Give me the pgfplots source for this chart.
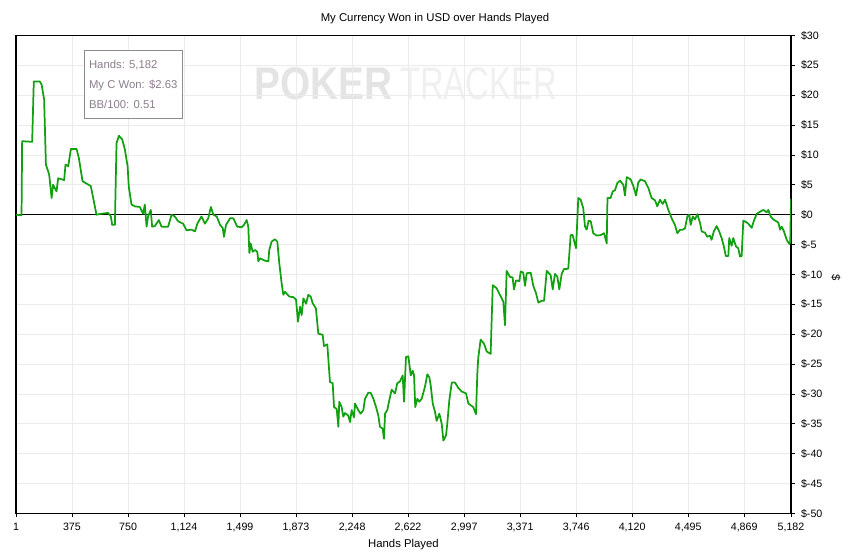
\documentclass[border=0pt]{standalone}
\usepackage{fontspec}
\setmainfont{Liberation Sans}
\usepackage{graphicx}
\usepackage{pgfplots}
\pgfplotsset{compat=1.18}
\definecolor{curve}{RGB}{16,160,16}
\definecolor{gridc}{RGB}{235,235,235}
\definecolor{legtxt}{RGB}{140,125,140}
\definecolor{wma}{RGB}{228,228,228}
\definecolor{wmb}{RGB}{240,240,240}
\begin{document}
\begin{tikzpicture}
\begin{axis}[
  set layers,
  scale only axis,
  width=581.25pt, height=358.5pt,
  xmin=1, xmax=5182, ymin=-50, ymax=30,
  axis line style={black, line width=0.8pt},
  grid=major,
  major grid style={gridc, line width=0.6pt},
  tick align=outside,
  major tick length=3pt,
  tick style={black, line width=0.6pt},
  xtick pos=lower,
  ytick pos=right,
  yticklabel pos=right,
  xtick={1,375,750,1124,1499,1873,2248,2622,2997,3371,3746,4120,4495,4869,5182},
  xticklabels={1,375,750,{1,124},{1,499},{1,873},{2,248},{2,622},{2,997},{3,371},{3,746},{4,120},{4,495},{4,869},{5,182}},
  ytick={-50,-45,-40,-35,-30,-25,-20,-15,-10,-5,0,5,10,15,20,25,30},
  yticklabels={\$-50,\$-45,\$-40,\$-35,\$-30,\$-25,\$-20,\$-15,\$-10,\$-5,\$0,\$5,\$10,\$15,\$20,\$25,\$30},
  ticklabel style={font=\fontsize{8}{9}\selectfont},
  xticklabel style={yshift=-1pt},
  yticklabel style={xshift=1pt},
  clip=true,
]
\begin{pgfonlayer}{axis background}
\node[anchor=center, inner sep=0pt, text=wma] at (rel axis cs:0.397,0.900)
  {\resizebox{103.5pt}{24pt}{\bfseries POKER}};
\node[anchor=center, inner sep=0pt, text=wmb] at (rel axis cs:0.597,0.900)
  {\resizebox{117.75pt}{24pt}{TRACKER}};
\end{pgfonlayer}
\addplot[black, line width=0.6pt] coordinates {(1,0) (5182,0)};
\addplot[curve, line width=1.3pt, line join=round] coordinates {
(1,0) (38,-0.1) (42,12.3) (109,12.2) (120,22.3) (160,22.3) (172,21.8) (189,19.3)
(201,8.4) (223,6.7) (239,2.8) (249,5) (272,3.9) (283,6.1) (323,5.8) (332,8.4)
(350,8.1) (368,11) (406,11) (421,9.5) (446,5.6) (473,5.2) (501,4.8) (517,2.8)
(539,0) (568,0.15) (617,0.3) (635,-0.3) (644,-1.7) (662,-1.7) (673,12) (689,13.2)
(711,12.6) (729,10.9) (747,8.1) (755,4.7) (773,1.7) (796,1.4) (829,1.3) (851,0.15)
(862,1.7) (874,-2) (884,-0.3) (902,0.8) (911,-2) (929,-1.9) (956,-0.9) (974,-2)
(1018,-2) (1041,0) (1063,-0.3) (1085,-1.1) (1118,-1.5) (1141,-2.6) (1175,-2.5)
(1197,-2.8) (1215,-1.4) (1241,-0.3) (1264,-1.5) (1286,-0.6) (1304,1.3) (1320,0)
(1343,-0.3) (1365,-1.7) (1383,-2.2) (1391,-3.7) (1405,-1.7) (1432,-0.6) (1454,-0.6)
(1480,-2) (1510,-2.1) (1525,-1.7) (1543,-0.9) (1554,-2) (1561,-6.4) (1570,-4.8)
(1583,-6.2) (1599,-5.9) (1614,-6.2) (1621,-7.8) (1632,-7.3) (1666,-7.7) (1688,-7.8)
(1694,-5.9) (1710,-4.5) (1732,-4.1) (1748,-4.5) (1761,-8.1) (1777,-11.5) (1788,-13.4)
(1799,-12.9) (1828,-13.7) (1855,-13.8) (1873,-14.2) (1886,-17.9) (1900,-15.4)
(1911,-16.8) (1922,-14) (1940,-14.9) (1955,-13.4) (1971,-13.7) (1984,-14.8)
(2006,-15.7) (2022,-19.9) (2051,-20.1) (2060,-22) (2082,-21.7) (2100,-28) (2118,-28.2)
(2127,-32.2) (2145,-32.5) (2156,-35.5) (2162,-31.3) (2178,-32.2) (2189,-33.8)
(2200,-33.2) (2222,-33.6) (2234,-34.7) (2245,-32.7) (2261,-33.9) (2267,-31.6)
(2289,-32.7) (2305,-33.3) (2323,-32.7) (2334,-30.8) (2356,-29.8) (2372,-29.8)
(2390,-30.8) (2408,-32.2) (2423,-33.6) (2434,-35.5) (2452,-35.8) (2461,-37.5)
(2468,-33.3) (2483,-32.7) (2497,-31) (2512,-29.3) (2535,-29.9) (2550,-28.2)
(2568,-27.9) (2586,-26.9) (2595,-31.3) (2608,-23.8) (2624,-23.7) (2640,-26.9)
(2653,-26.1) (2662,-26.9) (2670,-32.2) (2684,-30.8) (2697,-31.3) (2713,-30.8)
(2735,-28.8) (2751,-26.7) (2764,-27.2) (2773,-28.5) (2787,-31.6) (2802,-33)
(2813,-34.5) (2831,-33.3) (2847,-35) (2858,-37.8) (2876,-36.9) (2884,-35)
(2898,-31) (2914,-28.1) (2936,-28.1) (2958,-29) (2981,-29.6) (3009,-29.9)
(3025,-31.6) (3058,-32.2) (3076,-33.4) (3085,-26.6) (3091,-24) (3107,-20.9)
(3130,-21.6) (3148,-22.9) (3174,-23.3) (3188,-11.8) (3214,-12.3) (3248,-14)
(3259,-14.6) (3270,-18.5) (3281,-9.4) (3303,-10.4) (3321,-10.5) (3330,-12.5)
(3344,-11) (3366,-11.1) (3375,-9.5) (3392,-9.7) (3404,-11.9) (3415,-9.8)
(3442,-9.7) (3459,-11.9) (3477,-13.1) (3493,-14.7) (3515,-14.4) (3531,-14.4)
(3549,-9.4) (3575,-10.1) (3589,-12.5) (3604,-9.9) (3620,-10.4) (3633,-12.5)
(3649,-9.9) (3664,-9.1) (3678,-9.1) (3693,-9) (3709,-3.4) (3722,-3.4) (3745,-5.6)
(3760,2.8) (3776,2.5) (3793,1.1) (3805,-2) (3816,-2.5) (3829,-1) (3843,-1.1)
(3860,-3.1) (3883,-3.5) (3910,-3.4) (3932,-3.1) (3950,-4.8) (3955,2.8) (3976,2.8)
(3990,3.9) (4005,4.1) (4021,5.3) (4039,5.7) (4061,5) (4072,3.2) (4084,6.3)
(4110,5.9) (4128,4.8) (4146,3.2) (4161,5.4) (4177,5.9) (4206,5.6) (4228,4.5)
(4250,2.8) (4273,2.4) (4288,1.4) (4306,2.5) (4324,1.8) (4340,2.5) (4362,0.8)
(4384,-0.6) (4406,-1.7) (4422,-3.1) (4440,-2.5) (4458,-2.5) (4473,-2.3)
(4489,-0.3) (4502,0) (4511,-1.7) (4525,-0.3) (4540,-0.8) (4556,0.1) (4574,-1.4)
(4585,-2.8) (4607,-3) (4622,-3.7) (4640,-3.5) (4651,-4.2) (4666,-2.8) (4685,-1.9)
(4702,-2.8) (4718,-3.9) (4732,-5.2) (4746,-6.9) (4763,-6.9) (4769,-3.9) (4785,-5.2)
(4796,-3.9) (4814,-5.3) (4829,-5.6) (4841,-7) (4852,-6.9) (4863,-1) (4881,-1.2)
(4896,-1.5) (4919,-2.2) (4934,-1) (4953,0.15) (4975,0.5) (4997,0.8) (5019,0.4)
(5030,0.8) (5046,-0.3) (5064,-0.8) (5097,-1.3) (5109,-2.5) (5120,-2) (5135,-2.8)
(5153,-4.2) (5171,-4.9) (5177,-4.6) (5182,2.63)
};
\node[draw=gray!90, line width=0.6pt, fill=white, anchor=north west, text=legtxt,
  align=left, inner xsep=3.5pt, inner ysep=3pt,
  font=\fontsize{8.5}{15}\selectfont, minimum width=72.75pt, minimum height=51pt]
  at (rel axis cs:0.0877,0.969)
  {Hands: 5,182\\My C Won: \$2.63\\BB/100: 0.51};
\end{axis}
\node[font=\fontsize{8.5}{10}\selectfont] at (314.25pt,371.5pt) {My Currency Won in USD over Hands Played};
\node[font=\fontsize{8.5}{10}\selectfont] at (290.6pt,-23pt) {Hands Played};
\node[font=\fontsize{8.5}{10}\selectfont, rotate=-90] at (615pt,176.5pt) {\$};
\useasboundingbox (-12pt,-29pt) rectangle (630.75pt,385.1pt);
\end{tikzpicture}
\end{document}
